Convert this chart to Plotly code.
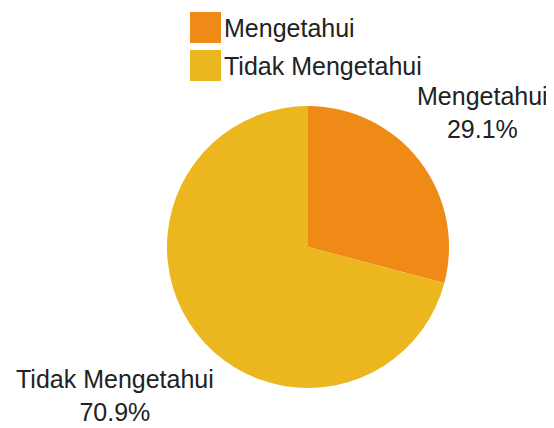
import math
import plotly.graph_objects as go

categories = ["Mengetahui", "Tidak Mengetahui"]
values = [29.1, 70.9]
colors = ["#EF8A17", "#ECB61E"]

W, H = 554, 428
OFF = 8  # page body margin offset
cx, cy, R = 308 - OFF, 247 - OFF, 141  # pie centre and radius in pixels
label_dist = [1.56, 1.73]   # label distance factors (x radius)

fig = go.Figure(go.Pie(
    labels=categories,
    values=values,
    marker=dict(colors=colors, line=dict(color="white", width=0)),
    sort=False,
    direction="clockwise",
    rotation=0,
    textinfo="none",
    hoverinfo="label+percent",
    showlegend=False,
    domain=dict(x=[(cx - R) / W, (cx + R) / W], y=[1 - (cy + R) / H, 1 - (cy - R) / H]),
))

font = dict(family="Liberation Sans, Arial, sans-serif", size=25, color="#222222")

# slice labels placed along each slice's mid-angle
total = sum(values)
cum = 0
annotations = []
for i, (cat, v) in enumerate(zip(categories, values)):
    mid = (cum + v / 2) / total * 2 * math.pi
    cum += v
    px = cx + math.sin(mid) * R * label_dist[i]
    py = cy - math.cos(mid) * R * label_dist[i]
    annotations.append(dict(
        x=px / W, y=1 - py / H, xref="paper", yref="paper",
        text=f"{cat}<br>{v / total * 100:.1f}%", showarrow=False,
        font=font, align="center", xanchor="center", yanchor="middle",
    ))

# custom legend with large square swatches
shapes = []
leg_x0, leg_y0, sw, gap = 190 - OFF, 12 - OFF, 31, 38
for i, (cat, col) in enumerate(zip(categories, colors)):
    top = leg_y0 + i * gap
    shapes.append(dict(type="rect", xref="paper", yref="paper",
                       x0=leg_x0 / W, x1=(leg_x0 + sw) / W,
                       y0=1 - (top + sw) / H, y1=1 - top / H,
                       fillcolor=col, line=dict(width=0)))
    annotations.append(dict(x=(leg_x0 + sw + 1) / W, y=1 - (top + sw / 2) / H,
                            xref="paper", yref="paper", text=cat, showarrow=False,
                            font=font, xanchor="left", yanchor="middle"))

fig.update_layout(
    width=W, height=H,
    margin=dict(l=0, r=0, t=0, b=0),
    paper_bgcolor="white",
    plot_bgcolor="white",
    annotations=annotations,
    shapes=shapes,
)

fig.write_html("out.html")
